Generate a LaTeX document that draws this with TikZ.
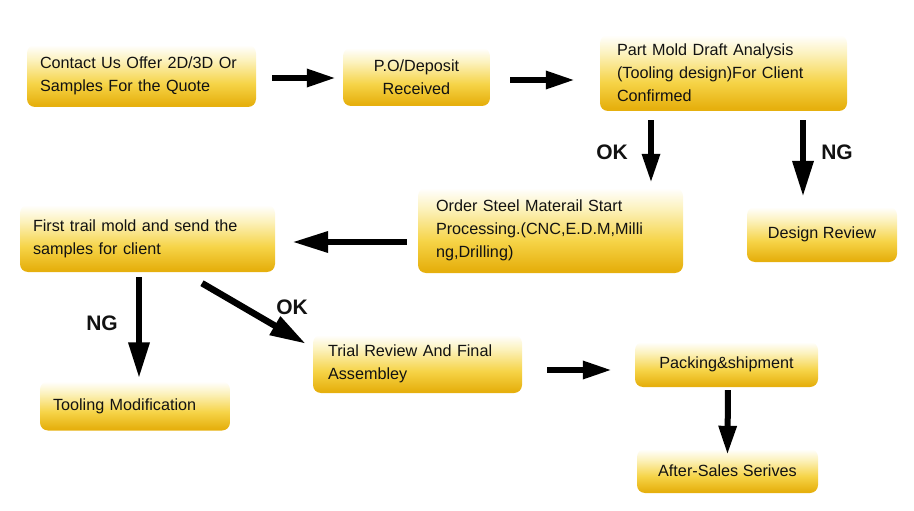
\documentclass[tikz,border=0pt]{standalone}
\usepackage{fontspec}
\setmainfont{Liberation Sans}
\usetikzlibrary{arrows.meta,calc}

\definecolor{goldlow}{RGB}{230,176,14}
\definecolor{goldmid}{RGB}{246,212,72}
\definecolor{goldtop}{RGB}{252,242,190}
\definecolor{inkdark}{RGB}{18,18,18}
\pgfdeclareverticalshading{goldbox}{100bp}{color(0bp)=(goldlow); color(27bp)=(goldlow); color(44bp)=(goldmid); color(63bp)=(goldtop); color(75bp)=(white); color(100bp)=(white)}

\begin{document}
\begin{tikzpicture}[x=1pt, y=-1pt,
    stepbox/.style={shading=goldbox, rounded corners=8pt, inner sep=0pt,
      font=\fontsize{16.2}{23}\selectfont, text=inkdark, align=left},
    flow/.style={line width=6pt, -{Triangle[length=29pt,width=17pt]}},
    bigflow/.style={line width=6.5pt, -{Triangle[length=36pt,width=20pt]}},
    verdict/.style={font=\fontsize{21}{21}\selectfont\bfseries, text=inkdark}]

  \useasboundingbox (0,0) rectangle (914,511);

  % Top row
  \node[stepbox, minimum width=229pt, minimum height=62pt, text width=203pt] (contact) at (141.5,76)
    {Contact Us Offer 2D/3D Or\\Samples For the Quote};
  \node[stepbox, minimum width=147pt, minimum height=58pt, align=center] (deposit) at (416.5,77)
    {P.O/Deposit\\Received};
  \node[stepbox, minimum width=247pt, minimum height=76pt, text width=213pt] (analysis) at (723.5,73)
    {Part Mold Draft Analysis\\(Tooling design)For Client\\Confirmed};

  % Middle row
  \node[stepbox, minimum width=255pt, minimum height=67pt, text width=229pt] (sample) at (147.5,238.5)
    {First trail mold and send the\\samples for client};
  \node[stepbox, minimum width=265pt, minimum height=85pt, text width=229pt] (steel) at (550.5,230.5)
    {Order Steel Materail Start\\Processing.(CNC,E.D.M,Milli\\ng,Drilling)};
  \node[stepbox, minimum width=150pt, minimum height=55pt, align=center] (review) at (822,234.5)
    {Design Review};

  % Bottom rows
  \node[stepbox, minimum width=190pt, minimum height=49pt, text width=164pt] (tooling) at (135,406)
    {Tooling Modification};
  \node[stepbox, minimum width=209pt, minimum height=58pt, text width=179pt] (final) at (417.5,364)
    {Trial Review And Final\\Assembley};
  \node[stepbox, minimum width=183pt, minimum height=45pt, align=center] (packing) at (726.5,364.5)
    {Packing\&shipment};
  \node[stepbox, minimum width=181pt, minimum height=44pt, align=center] (aftersales) at (727.5,471)
    {After-Sales Serives};

  % Arrows
  \draw[flow, shorten <=16pt, shorten >=7pt] ([yshift=-2pt]contact.east) -- ([yshift=-2pt]contact.east -| deposit.west);
  \draw[flow, shorten <=20pt, shorten >=25pt] ([yshift=-3pt]deposit.east) -- ([yshift=-3pt]deposit.east -| analysis.west);
  \draw[flow, shorten <=9pt, shorten >=5pt] ([xshift=-72.5pt]analysis.south) -- ([xshift=100.5pt]steel.north);
  \draw[bigflow, shorten <=9pt, shorten >=10pt] ([xshift=79.5pt]analysis.south) -- ([xshift=-19pt]review.north);
  \draw[bigflow, shorten <=11pt, shorten >=17pt] ([yshift=-11.5pt]steel.west) -- ([yshift=-11.5pt]steel.west -| sample.east);
  \draw[bigflow, shorten <=5pt, shorten >=3pt] ([xshift=-8.5pt]sample.south) -- ([xshift=4pt]tooling.north);
  \draw[bigflow, shorten >=8pt] ([xshift=54.5pt, yshift=-11pt]sample.south) -- ([yshift=-13pt]final.north west);
  \draw[flow, shorten <=25pt, shorten >=23pt] ([yshift=-6pt]final.east) -- ([yshift=-6pt]final.east -| packing.west);
  \draw[flow, shorten <=3pt, shorten >=-6pt] ([xshift=1.5pt]packing.south) -- (aftersales.north);

  % Decisions
  \node[verdict] (okone) at (612,152) {OK};
  \node[verdict] (ngone) at (837,152) {NG};
  \node[verdict] (ngtwo) at (102,323) {NG};
  \node[verdict] (oktwo) at (292,307) {OK};
\end{tikzpicture}
\end{document}
